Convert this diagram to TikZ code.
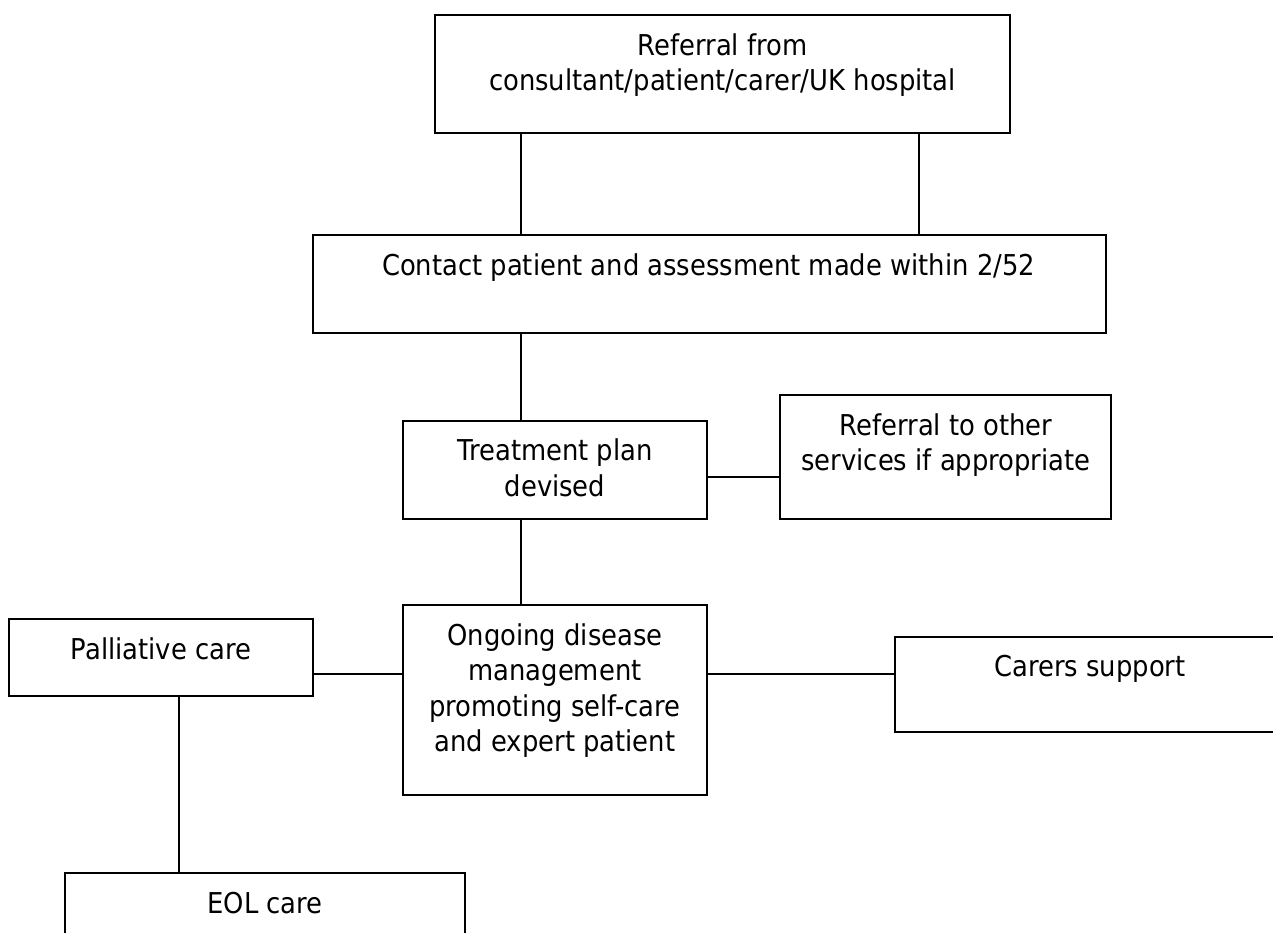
\documentclass[tikz,border=0pt]{standalone}
\usepackage{fontspec}
\setmainfont{DejaVu Sans}[FakeStretch=0.9]
\begin{document}
\begin{tikzpicture}[x=1pt,y=-1pt,
  box/.style={draw, line width=2pt, rectangle, inner sep=0pt},
  link/.style={line width=1.5pt},
  lbl/.style={anchor=north, inner sep=0pt, align=center, font=\fontsize{28.7}{35.5}\selectfont}]
\useasboundingbox (0,0) rectangle (1273,933);
\clip (0,0) rectangle (1273,933);
\fill[white] (0,0) rectangle (1273,933);
% boxes
\node[box, minimum width=575pt, minimum height=118pt] (ref) at (722.5,74) {};
\node[box, minimum width=793pt, minimum height=98pt] (contact) at (709.5,284) {};
\node[box, minimum width=304pt, minimum height=98pt] (treat) at (555,470) {};
\node[box, minimum width=331pt, minimum height=124pt] (other) at (945.5,457) {};
\node[box, minimum width=304pt, minimum height=190pt] (ongoing) at (555,700) {};
\node[box, minimum width=304pt, minimum height=77pt] (pall) at (161,657.5) {};
\node[box, minimum width=390pt, minimum height=95pt] (carers) at (1090,684.5) {};
\node[box, minimum width=400pt, minimum height=87pt] (eol) at (265,916.5) {};
% texts
\node[lbl] (reft) at (722.5,30) {\rule{0pt}{25pt}Referral from\\consultant/patient/carer/UK hospital};
\node[lbl] (contactt) at (708.5,250) {\rule{0pt}{25pt}Contact patient and assessment made within 2/52};
\node[lbl] (treatt) at (555,435.7) {\rule{0pt}{25pt}Treatment plan\\devised};
\node[lbl] (othert) at (946,410) {\rule{0pt}{25pt}Referral to other\\services if appropriate};
\node[lbl] (ongoingt) at (555,620) {\rule{0pt}{25pt}Ongoing disease\\management\\promoting self-care\\and expert patient};
\node[lbl] (pallt) at (161,634.3) {\rule{0pt}{25pt}Palliative care};
\node[lbl] (carerst) at (1090,651.7) {\rule{0pt}{25pt}Carers support};
\node[lbl] (eolt) at (265,888.3) {\rule{0pt}{25pt}EOL care};
% connector guides
\coordinate (xa) at (521,0);
\coordinate (xb) at (919,0);
\coordinate (xc) at (179,0);
\coordinate (ya) at (0,477);
\coordinate (yb) at (0,674);
% connectors
\draw[link] (ref.south -| xa) -- (contact.north -| xa);
\draw[link] (ref.south -| xb) -- (contact.north -| xb);
\draw[link] (contact.south -| xa) -- (treat.north -| xa);
\draw[link] (treat.south -| xa) -- (ongoing.north -| xa);
\draw[link] (treat.east |- ya) -- (other.west |- ya);
\draw[link] (pall.east |- yb) -- (ongoing.west |- yb);
\draw[link] (ongoing.east |- yb) -- (carers.west |- yb);
\draw[link] (pall.south -| xc) -- (eol.north -| xc);
\end{tikzpicture}
\end{document}
